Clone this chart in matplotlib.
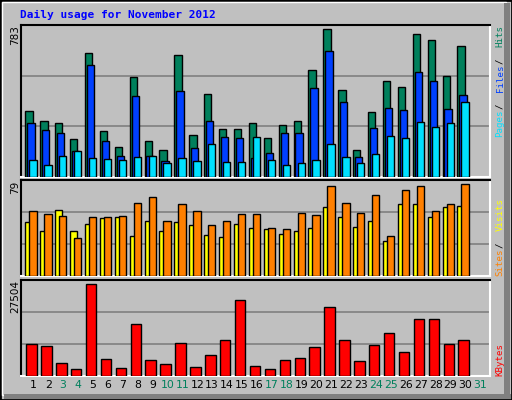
import matplotlib
matplotlib.use("Agg")
import matplotlib.pyplot as plt
from matplotlib.patches import Rectangle
import numpy as np

days = list(range(1, 32))
hits = [338,287,277,194,637,235,153,514,184,138,627,215,426,246,246,277,199,266,287,550,761,447,138,333,493,462,735,704,519,673]
files = [277,241,225,132,575,184,107,416,107,81,441,148,287,204,199,96,122,225,225,457,647,385,101,251,354,344,539,493,349,421]
pages = [86,60,107,132,96,91,86,101,107,71,96,81,168,76,76,204,86,60,71,86,168,101,71,117,210,199,282,256,277,385]
visits = [53.5,51,49.4,31.3,48.6,48.6,49.4,60,65,45.3,59.3,53.5,42,45.3,51,51,39.5,38.7,51.8,50.2,74,60,51.8,66.7,33,70.8,74,53.5,59.3,75.7]
sites = [44.4,37,54.3,37,42.8,47.7,48.6,33,45.3,37,44.4,42,33.7,32,42.8,39.5,38.7,34.6,37,39.5,56.8,48.6,40.3,45.3,28.8,59.3,59.3,48.6,56.8,57.6]
kbytes = [9040,8463,3558,1827,26350,4712,2116,14810,4424,3270,9328,2404,5866,10194,21734,2693,1827,4424,5001,8174,19714,10194,4135,8751,12213,6732,16252,16252,9040,10194]
weekend = [3,4,10,11,17,18,24,25,31]
title = "Daily usage for November 2012"

BG = "#C0C0C0"
W, H = 512, 400
fig = plt.figure(figsize=(5.12, 4.0), dpi=100, facecolor=BG)

def box(x0, y0, x1, y1):
    return [x0 / W, 1 - y1 / H, (x1 - x0) / W, (y1 - y0) / H]

# outer frame
fig.patches.append(Rectangle((0, 0), 1, 1, transform=fig.transFigure, fill=False, ec="black", lw=2))
fig.patches.append(Rectangle((2/W, 5/H), (W-8)/W, (H-7)/H, transform=fig.transFigure, fill=False, ec="white", lw=1))
fig.patches.append(Rectangle((4/W, 1/H), (W-5)/W, 5/H, transform=fig.transFigure, color="#808080", lw=0))
fig.patches.append(Rectangle(((W-8)/W, 1/H), 6/W, (H-4)/H, transform=fig.transFigure, color="#808080", lw=0))

x = np.array(range(1, len(hits) + 1))
XL = (0.155, 31.67)

def setup(ax, top):
    ax.set_facecolor(BG)
    ax.set_xlim(*XL)
    ax.set_ylim(0, top)
    for v in (top / 3, 2 * top / 3):
        ax.axhline(v, color="#808080", lw=1.2, zorder=0)
    ax.spines["left"].set_color("black")
    ax.spines["top"].set_color("black")
    ax.spines["right"].set_color("white")
    ax.spines["bottom"].set_color("white")
    for s in ax.spines.values():
        s.set_linewidth(1.5)
    ax.set_xticks([])
    ax.set_yticks([])

kw = dict(edgecolor="black", linewidth=1, zorder=3)
ax1 = fig.add_axes(box(20.7, 25, 490.3, 177))
setup(ax1, 783)
ax1.bar(x - 0.29, hits, width=0.49, color="#00805C", **kw)
ax1.bar(x - 0.16, files, width=0.49, color="#0040FF", **kw)
ax1.bar(x - 0.02, pages, width=0.49, color="#00E0FF", **kw)

ax2 = fig.add_axes(box(20.7, 180.3, 490.3, 276.3))
setup(ax2, 79)
ax2.bar(x - 0.29, sites, width=0.49, color="#FFFF00", **kw)
ax2.bar(x - 0.02, visits, width=0.49, color="#FF8000", **kw)

ax3 = fig.add_axes(box(20.7, 280.3, 490.3, 375.7))
setup(ax3, 27504)
ax3.bar(x - 0.12, kbytes, width=0.7, color="#FF0000", **kw)

# x labels
for d in days:
    ax3.text(d, -0.1, str(d), transform=ax3.get_xaxis_transform(), ha="center", va="center",
             fontsize=7.8, color="#00805C" if d in weekend else "black", family="DejaVu Sans")

fig.text(20 / W, 1 - 15 / H, title, color="#0000FF", fontsize=8, fontweight="bold",
         family="DejaVu Sans Mono", va="center", ha="left")

for lab, yt in (("783", 25), ("79", 180.3), ("27504", 280.3)):
    fig.text(15 / W, 1 - yt / H, lab, family="DejaVu Sans", fontsize=7.5, rotation=90, ha="center", va="top")

mono = dict(family="DejaVu Sans Mono", fontsize=6.6, rotation=90, ha="center", va="bottom")

def rlabel(parts, ybottom, cw=5.6):
    off = 0
    for txt, col in parts:
        if txt.strip():
            fig.text(500 / W, 1 - (ybottom - off * cw) / H, txt.strip(), color=col, **mono)
        off += len(txt)

rlabel([("Pages", "#00E0FF"), (" / ", "black"), ("Files", "#0040FF"), (" / ", "black"), ("Hits", "#00805C")], 137)
rlabel([("Sites", "#FF8000"), (" / ", "black"), ("Visits", "#FFFF00")], 276)
rlabel([("KBytes", "#FF0000")], 376)

fig.savefig("out.png", dpi=100, facecolor=BG)
